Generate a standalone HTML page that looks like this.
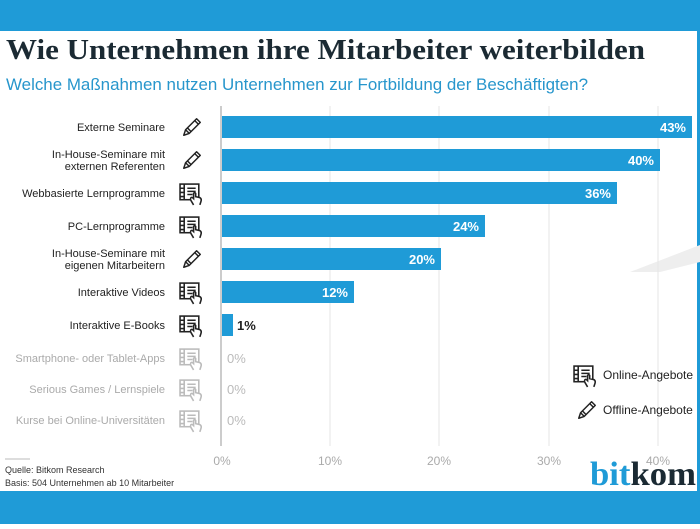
<!DOCTYPE html>
<html><head><meta charset="utf-8"><style>
body{margin:0;width:700px;height:524px;overflow:hidden;background:#fff;font-family:"Liberation Sans",sans-serif}
</style></head><body>
<svg width="700" height="524" viewBox="0 0 700 524" xmlns="http://www.w3.org/2000/svg" font-family="Liberation Sans, sans-serif">
<defs>
<symbol id="pen" viewBox="0 0 24 24"><g fill="none" stroke="#222" stroke-width="1.6" stroke-linejoin="round"><path d="M3 21 L5 15 L17 3 L21 7 L9 19 Z"/><path d="M5 15 L9 19 M7 13 L11 17 M15 5 L19 9"/></g></symbol>
<symbol id="doc" viewBox="0 0 24 24"><g fill="none" stroke="currentColor" stroke-width="1.5"><rect x="1" y="2" width="18" height="15"/><path d="M5 2 V17 M1 6 H5 M1 10 H5 M1 14 H5 M8 6 H16 M8 9 H16 M8 12 H13"/><path d="M14 22 L11 17 Q11 14 13 15 L14 16 V11 Q15 9.5 16 11 V14 L20 15 Q22 16 21 19 L20 22" fill="#fff"/></g></symbol>
</defs>
<rect x="0" y="0" width="700" height="31" fill="#1f9bd7"/>
<rect x="0" y="491" width="700" height="33" fill="#1f9bd7"/>
<rect x="697" y="31" width="3" height="460" fill="#1f9bd7"/>
<text x="6" y="59" font-family="Liberation Serif, serif" font-weight="bold" font-size="28" fill="#1b2a33" textLength="639" lengthAdjust="spacingAndGlyphs">Wie Unternehmen ihre Mitarbeiter weiterbilden</text>
<text x="6" y="90" font-size="17" fill="#2796cc" textLength="582" lengthAdjust="spacingAndGlyphs">Welche Maßnahmen nutzen Unternehmen zur Fortbildung der Beschäftigten?</text>
<polygon points="630,272 700,245 700,262 660,272" fill="#eeeeee"/>
<g stroke="#e6e6e6" stroke-width="1">
<line x1="330" y1="106" x2="330" y2="446"/><line x1="439" y1="106" x2="439" y2="446"/><line x1="549" y1="106" x2="549" y2="446"/><line x1="658" y1="106" x2="658" y2="446"/>
</g>
<line x1="221" y1="106" x2="221" y2="446" stroke="#bbb" stroke-width="1.5"/>
<g font-size="12" fill="#aaa" text-anchor="middle">
<text x="222" y="465">0%</text><text x="330" y="465">10%</text><text x="439" y="465">20%</text><text x="549" y="465">30%</text><text x="658" y="465">40%</text>
</g>
<g fill="#1f9bd7">
<rect x="222" y="116" width="470" height="22"/>
<rect x="222" y="149" width="438" height="22"/>
<rect x="222" y="182" width="395" height="22"/>
<rect x="222" y="215" width="263" height="22"/>
<rect x="222" y="248" width="219" height="22"/>
<rect x="222" y="281" width="132" height="22"/>
<rect x="222" y="314" width="11" height="22"/>
</g>
<g font-size="13" font-weight="bold" fill="#fff" text-anchor="end">
<text x="686" y="132">43%</text><text x="654" y="165">40%</text><text x="611" y="198">36%</text><text x="479" y="231">24%</text><text x="435" y="264">20%</text><text x="348" y="297">12%</text>
</g>
<text x="237" y="330" font-size="13" font-weight="bold" fill="#222">1%</text>
<g font-size="13" fill="#bbb"><text x="227" y="363">0%</text><text x="227" y="394">0%</text><text x="227" y="425">0%</text></g>
<g font-size="11" fill="#222" text-anchor="end">
<text x="165" y="131">Externe Seminare</text>
<text x="165" y="158">In-House-Seminare mit</text><text x="165" y="170">externen Referenten</text>
<text x="165" y="197">Webbasierte Lernprogramme</text>
<text x="165" y="230">PC-Lernprogramme</text>
<text x="165" y="257">In-House-Seminare mit</text><text x="165" y="269">eigenen Mitarbeitern</text>
<text x="165" y="296">Interaktive Videos</text>
<text x="165" y="329">Interaktive E-Books</text>
</g>
<g font-size="11" fill="#aaa" text-anchor="end">
<text x="165" y="362">Smartphone- oder Tablet-Apps</text>
<text x="165" y="393">Serious Games / Lernspiele</text>
<text x="165" y="424">Kurse bei Online-Universitäten</text>
</g>
<use href="#pen" x="181" y="116" width="22" height="22"/>
<use href="#pen" x="181" y="149" width="22" height="22"/>
<use href="#pen" x="181" y="248" width="22" height="22"/>
<g color="#222">
<use href="#doc" x="179" y="182" width="25" height="25"/>
<use href="#doc" x="179" y="215" width="25" height="25"/>
<use href="#doc" x="179" y="281" width="25" height="25"/>
<use href="#doc" x="179" y="314" width="25" height="25"/>
<use href="#doc" x="573" y="364" width="25" height="25"/>
</g>
<g color="#bbb">
<use href="#doc" x="179" y="347" width="25" height="25"/>
<use href="#doc" x="179" y="378" width="25" height="25"/>
<use href="#doc" x="179" y="409" width="25" height="25"/>
</g>
<use href="#pen" x="576" y="399" width="22" height="22"/>
<g font-size="12" fill="#222"><text x="603" y="379">Online-Angebote</text><text x="603" y="414">Offline-Angebote</text></g>
<line x1="5" y1="459" x2="30" y2="459" stroke="#bbb"/>
<g font-size="9" fill="#333"><text x="5" y="473">Quelle: Bitkom Research</text><text x="5" y="486">Basis: 504 Unternehmen ab 10 Mitarbeiter</text></g>
<text x="590" y="485" font-family="Liberation Serif, serif" font-weight="bold" font-size="34" textLength="106" lengthAdjust="spacingAndGlyphs"><tspan fill="#1f9bd7">bit</tspan><tspan fill="#1b2a33">kom</tspan></text>
</svg>
</body></html>
